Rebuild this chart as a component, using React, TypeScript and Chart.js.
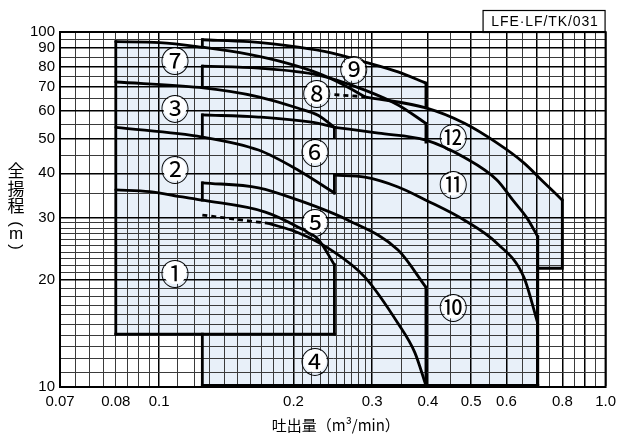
import React, { useEffect, useRef } from "react";
import { Chart, registerables } from "chart.js";
Chart.register(...registerables);

type P = [number, number];

// ---- axes ----
const X_MIN = 0.06;
const X_MAX = 1.0;
const Y_MIN = 10;
const Y_MAX = 100;
const xGridValues = [
  0.06, 0.065, 0.07, 0.075, 0.08, 0.085, 0.09, 0.095, 0.1, 0.11, 0.12, 0.13, 0.14, 0.15, 0.16, 0.17, 0.18,
  0.19, 0.2, 0.21, 0.22, 0.23, 0.24, 0.25, 0.26, 0.27, 0.28, 0.29, 0.3, 0.35, 0.4, 0.45, 0.5, 0.55, 0.6,
  0.65, 0.7, 0.75, 0.8, 0.85, 0.9, 0.95, 1.0,
];
const xMajorValues = [0.1, 0.2, 0.3, 0.4, 0.5, 0.6, 0.7, 0.8, 0.9, 1.0];
const xTickValues = [0.06, 0.08, 0.1, 0.2, 0.3, 0.4, 0.5, 0.6, 0.8, 1.0];
const xTickLabels = ["0.07", "0.08", "0.1", "0.2", "0.3", "0.4", "0.5", "0.6", "0.8", "1.0"];
const yGridValues = [
  10, 11, 12, 13, 14, 15, 16, 17, 18, 19, 20, 21, 22, 23, 24, 25, 26, 27, 28, 29, 30, 35, 40, 45, 50, 55,
  60, 65, 70, 75, 80, 85, 90, 95, 100,
];
const yTickValues = [10, 20, 30, 40, 50, 60, 70, 80, 90, 100];
const yTickLabels = ["10", "20", "30", "40", "50", "60", "70", "80", "90", "100"];

// ---- region limits (m3/min, m) ----
const Q_A0 = 0.08;
const Q_B0 = 0.125;
const Q_C0 = 0.247;
const Q_B1 = 0.396;
const Q_C1 = 0.705;
const Q_C2 = 0.8;
const H_BOTTOM = 10.1;
const H_A_BOTTOM = 14.1;
const H_12_BOTTOM = 21.6;

// ---- performance curves ----
const curve7: P[] = [[0.08, 93.9], [0.1003, 93.4], [0.125, 90.6], [0.159, 86.5], [0.195, 81.5], [0.2275, 76.5], [0.2586, 71.0], [0.289, 65.7]];
const curve9: P[] = [[0.125, 95.1], [0.159, 93.9], [0.205, 90.6], [0.243, 87.3], [0.289, 82.3], [0.343, 77.2], [0.396, 71.8]];
const curve12Dashed: P[] = [[0.247, 66.6], [0.289, 65.7]];
const curve12: P[] = [[0.289, 65.7], [0.396, 61.1], [0.483, 55.3], [0.571, 48.7], [0.656, 42.8], [0.726, 37.8], [0.8, 33.6]];
const curve8: P[] = [[0.125, 80.1], [0.167, 79.1], [0.2275, 75.6], [0.289, 68.6], [0.343, 62.3], [0.396, 55.3]];
const curve3: P[] = [[0.08, 72.3], [0.123, 69.8], [0.167, 65.7], [0.205, 61.0], [0.2275, 58.2], [0.247, 53.9]];
const curve6: P[] = [[0.125, 58.4], [0.167, 57.6], [0.2275, 55.3], [0.247, 53.9]];
const curve11: P[] = [[0.247, 53.9], [0.31, 51.9], [0.396, 49.6], [0.483, 44.3], [0.571, 38.3], [0.62, 33.6], [0.667, 29.9], [0.705, 26.5]];
const curve2: P[] = [[0.08, 53.9], [0.125, 50.6], [0.167, 46.5], [0.205, 40.8], [0.247, 35.2]];
const curve10: P[] = [[0.247, 39.5], [0.289, 39.0], [0.343, 36.6], [0.396, 33.6], [0.483, 29.5], [0.571, 25.4], [0.656, 20.4], [0.705, 15.1]];
const curve5: P[] = [[0.125, 37.6], [0.167, 36.4], [0.205, 33.6], [0.265, 29.5], [0.343, 24.3], [0.396, 19.1]];
const curve1: P[] = [[0.08, 35.9], [0.0953, 35.5], [0.1128, 34.3], [0.125, 33.6], [0.173, 31.1], [0.205, 28.2], [0.2275, 26.0], [0.247, 22.1]];
const curve4Dashed: P[] = [[0.125, 30.5], [0.176, 28.9]];
const curve4: P[] = [[0.176, 28.9], [0.205, 27.2], [0.243, 24.3], [0.289, 20.4], [0.343, 15.1], [0.374, 12.5], [0.396, 10.1]];

// straight region edges
const edges: P[][] = [
  [[Q_A0, H_A_BOTTOM], [Q_A0, 93.9]],
  [[Q_A0, H_A_BOTTOM], [Q_C0, H_A_BOTTOM]],
  [[Q_C0, H_A_BOTTOM], [Q_C0, 22.1]],
  [[Q_B0, H_BOTTOM], [Q_B0, H_A_BOTTOM]],
  [[Q_B0, H_BOTTOM], [Q_C1, H_BOTTOM]],
  [[Q_C1, H_BOTTOM], [Q_C1, 26.5]],
  [[Q_B0, 90.6], [Q_B0, 95.1]],
  [[Q_B1, 71.8], [Q_B1, 61.1]],
  [[Q_C2, 33.6], [Q_C2, H_12_BOTTOM], [Q_C1, H_12_BOTTOM]],
  [[Q_B0, 69.8], [Q_B0, 80.1]],
  [[Q_B1, 55.3], [Q_B1, 49.0]],
  [[Q_B0, 50.6], [Q_B0, 58.4]],
  [[Q_C0, 53.9], [Q_C0, 50.6]],
  [[Q_C0, 35.2], [Q_C0, 39.5]],
  [[Q_B0, 33.6], [Q_B0, 37.6]],
  [[Q_B1, 19.1], [Q_B1, H_BOTTOM]],
];

const smoothCurves: P[][] = [curve7, curve9, curve12, curve8, curve3, curve6, curve11, curve2, curve10, curve5, curve1, curve4];
const dashedCurves: P[][] = [curve12Dashed, curve4Dashed];

// envelope of all regions (light blue)
const envelope: P[] = [
  [Q_A0, H_A_BOTTOM],
  ...curve7.filter((p) => p[0] <= Q_B0),
  ...curve9,
  ...curve12.filter((p) => p[0] >= Q_B1),
  [Q_C2, H_12_BOTTOM],
  [Q_C1, H_12_BOTTOM],
  [Q_C1, H_BOTTOM],
  [Q_B0, H_BOTTOM],
  [Q_B0, H_A_BOTTOM],
];

// region labels
const regionLabels = ["①", "②", "③", "④", "⑤", "⑥", "⑦", "⑧", "⑨", "⑩", "⑪", "⑫"];
const regionLabelQ = [0.1085, 0.1085, 0.1085, 0.2235, 0.2235, 0.2235, 0.1085, 0.2254, 0.273, 0.456, 0.456, 0.456];
const regionLabelH = [21.0, 41.0, 61.2, 11.85, 29.2, 45.9, 83.4, 67.3, 78.5, 16.8, 37.3, 50.6];

const yTitleChars = ["全", "揚", "程", "(", "m", ")"];
const xTitle = "吐出量（m³/min）";
const codeLabel = "LFE·LF/TK/031";

const FILL = "#e8f0f9";
const LINE = "#000";
const TICK_FONT = '"Liberation Sans", Arial, sans-serif';
const CJK_FONT = '"Noto Sans CJK JP", "Noto Sans", sans-serif';

const toXY = (pts: P[]) => pts.map(([x, y]) => ({ x, y }));
const near = (a: number, b: number) => Math.abs(a - b) / b < 1e-6;

const decorPlugin = {
  id: "decor",
  beforeDraw(chart: any) {
    const { ctx } = chart;
    const xs = chart.scales.x;
    const ys = chart.scales.y;
    ctx.save();
    ctx.beginPath();
    envelope.forEach(([q, h], i) => {
      const px = xs.getPixelForValue(q);
      const py = ys.getPixelForValue(h);
      if (i === 0) ctx.moveTo(px, py);
      else ctx.lineTo(px, py);
    });
    ctx.closePath();
    ctx.fillStyle = FILL;
    ctx.fill();
    ctx.restore();
  },
  afterDraw(chart: any) {
    const { ctx, chartArea } = chart;
    const xs = chart.scales.x;
    const ys = chart.scales.y;
    ctx.save();
    // frame
    ctx.strokeStyle = LINE;
    ctx.lineWidth = 2;
    ctx.strokeRect(chartArea.left, chartArea.top, chartArea.right - chartArea.left, chartArea.bottom - chartArea.top);

    // region labels
    regionLabels.forEach((t, i) => {
      const px = xs.getPixelForValue(regionLabelQ[i]);
      const py = ys.getPixelForValue(regionLabelH[i]);
      ctx.beginPath();
      ctx.arc(px, py, 11.5, 0, Math.PI * 2);
      ctx.fillStyle = "#fff";
      ctx.fill();
      ctx.fillStyle = "#000";
      ctx.font = `29px ${CJK_FONT}`;
      ctx.textAlign = "center";
      ctx.textBaseline = "middle";
      ctx.fillText(t, px, py + 1);
    });

    // code label box
    const bw = 123;
    const bh = 22;
    const bx = chartArea.right - bw;
    const by = chartArea.top - bh;
    ctx.lineWidth = 1.2;
    ctx.strokeStyle = "#000";
    ctx.strokeRect(bx + 0.5, by + 0.5, bw - 1, bh);
    ctx.fillStyle = "#000";
    ctx.font = `14px ${TICK_FONT}`;
    (ctx as any).letterSpacing = "0.9px";
    ctx.textAlign = "center";
    ctx.textBaseline = "middle";
    ctx.fillText(codeLabel, bx + bw / 2 + 1, by + bh / 2 + 1);
    (ctx as any).letterSpacing = "0px";

    // y title (vertical)
    const yCenters = [171, 188.5, 206, 224, 235.5, 247];
    yTitleChars.forEach((c, i) => {
      ctx.save();
      ctx.translate(16, yCenters[i]);
      const rotated = c === "(" || c === ")";
      if (rotated) ctx.rotate(Math.PI / 2);
      ctx.font = /[a-z()]/.test(c) ? `17px ${TICK_FONT}` : `17px ${CJK_FONT}`;
      ctx.textAlign = "center";
      ctx.textBaseline = "middle";
      ctx.fillText(c, 0, rotated ? 0 : c === "m" ? -1 : 0);
      ctx.restore();
    });

    // x title
    ctx.font = `15px ${CJK_FONT}`;
    ctx.textAlign = "center";
    ctx.textBaseline = "middle";
    ctx.fillText(xTitle, (chartArea.left + chartArea.right) / 2 + 3, 425);
    ctx.restore();
  },
};

export default function App() {
  const ref = useRef<HTMLCanvasElement>(null);
  useEffect(() => {
    const datasets: any[] = [];
    smoothCurves.forEach((c) =>
      datasets.push({
        data: toXY(c),
        showLine: true,
        borderColor: LINE,
        borderWidth: 2.8,
        pointRadius: 0,
        cubicInterpolationMode: "monotone",
        borderCapStyle: "round",
        borderJoinStyle: "round",
        fill: false,
      })
    );
    dashedCurves.forEach((c) =>
      datasets.push({
        data: toXY(c),
        showLine: true,
        borderColor: LINE,
        borderWidth: 2.8,
        borderDash: [5, 4],
        pointRadius: 0,
        fill: false,
      })
    );
    edges.forEach((c) =>
      datasets.push({
        data: toXY(c),
        showLine: true,
        borderColor: LINE,
        borderWidth: 2.8,
        pointRadius: 0,
        borderCapStyle: "square",
        borderJoinStyle: "miter",
        fill: false,
      })
    );

    const chart = new Chart(ref.current as HTMLCanvasElement, {
      type: "scatter",
      data: { datasets },
      plugins: [decorPlugin],
      options: {
        animation: false,
        responsive: false,
        layout: { padding: { left: 0, right: 13, top: 32, bottom: 0 } },
        plugins: { legend: { display: false }, tooltip: { enabled: false }, title: { display: false } },
        scales: {
          x: {
            type: "logarithmic",
            min: X_MIN,
            max: X_MAX,
            afterBuildTicks: (axis: any) => {
              axis.ticks = xGridValues.map((v) => ({ value: v }));
            },
            afterFit: (axis: any) => {
              axis.height = 49;
            },
            ticks: {
              autoSkip: false,
              maxRotation: 0,
              minRotation: 0,
              padding: 6,
              color: "#000",
              font: { family: TICK_FONT, size: 15 },
              callback: (v: any) => {
                const i = xTickValues.findIndex((t) => near(Number(v), t));
                return i >= 0 ? xTickLabels[i] : "";
              },
            },
            grid: {
              drawTicks: false,
              color: (c: any) => (xMajorValues.some((m) => near(c.tick.value, m)) ? "#000" : "#3a3a3a"),
              lineWidth: (c: any) => (xMajorValues.some((m) => near(c.tick.value, m)) ? 1.5 : 1),
            },
            border: { display: true, color: "#000", width: 2 },
          },
          y: {
            type: "logarithmic",
            min: Y_MIN,
            max: Y_MAX,
            afterBuildTicks: (axis: any) => {
              axis.ticks = yGridValues.map((v) => ({ value: v }));
            },
            afterFit: (axis: any) => {
              axis.width = 60;
            },
            ticks: {
              autoSkip: false,
              padding: 5,
              color: "#000",
              font: { family: TICK_FONT, size: 15 },
              callback: (v: any) => {
                const i = yTickValues.findIndex((t) => near(Number(v), t));
                return i >= 0 ? yTickLabels[i] : "";
              },
            },
            grid: {
              drawTicks: false,
              color: (c: any) => (yTickValues.some((m) => near(c.tick.value, m)) ? "#000" : "#3a3a3a"),
              lineWidth: (c: any) => (yTickValues.some((m) => near(c.tick.value, m)) ? 1.5 : 1),
            },
            border: { display: true, color: "#000", width: 2 },
          },
        },
      },
    } as any);
    return () => chart.destroy();
  }, []);
  return (
    <div style={{ position: "absolute", left: 0, top: 0, width: 622, height: 436, background: "#fff" }}>
      <canvas ref={ref} width={622} height={436} style={{ display: "block" }} />
    </div>
  );
}
